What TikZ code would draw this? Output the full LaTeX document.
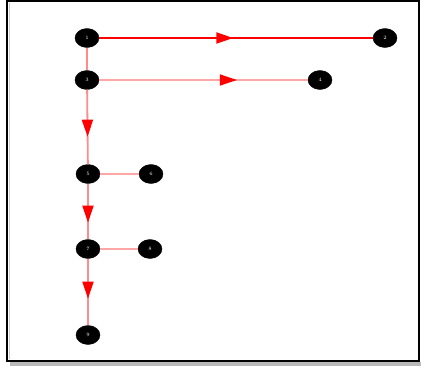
\documentclass[tikz,border=0pt]{standalone}
\usetikzlibrary{arrows.meta,decorations.markings,shapes.geometric}
\begin{document}
\begin{tikzpicture}[x=1pt,y=-1pt,
  vert/.style={ellipse,fill=black,draw=black,inner sep=0pt,minimum width=24pt,minimum height=19pt,
    text=white,font=\fontsize{5}{5}\selectfont},
  mainlink/.style={draw=red,line width=1.8pt},
  sidelink/.style={draw=red!35,line width=1.6pt},
  downlink/.style={draw=red!45,line width=1.8pt},
  midarrow/.style={postaction={decorate,decoration={markings,
    mark=at position #1 with {\arrow{Triangle[length=17pt,width=11pt,fill=red,color=red]}}}}}]
  \useasboundingbox (0,0) rectangle (421,367);
  % frame with drop shadow
  \fill[gray!55] (10,362) rectangle (421,366);
  \draw[line width=2pt] (7,1) -- (7,361) -- (419,361) -- (419,1) -- cycle;
  \draw[gray!40,line width=1pt] (9,3) -- (9,359);
  % vertices
  \node[vert] (n1) at (87,38) {1};
  \node[vert] (n2) at (385,38) {2};
  \node[vert] (n3) at (87,80) {3};
  \node[vert] (n4) at (320,80) {4};
  \node[vert] (n5) at (88,174) {5};
  \node[vert] (n6) at (151,174) {6};
  \node[vert] (n7) at (88,249) {7};
  \node[vert] (n8) at (150,249) {8};
  \node[vert] (n9) at (88,335) {9};
  % edges
  \path[mainlink,midarrow=0.49] (n1) -- (n2);
  \path[sidelink,midarrow=0.66] (n3) -- (n4);
  \path[downlink] (n1) -- (n3);
  \path[downlink,midarrow=0.63] (n3) -- (n5);
  \path[sidelink] (n5) -- (n6);
  \path[downlink,midarrow=0.7] (n5) -- (n7);
  \path[sidelink] (n7) -- (n8);
  \path[downlink,midarrow=0.6] (n7) -- (n9);
\end{tikzpicture}
\end{document}
